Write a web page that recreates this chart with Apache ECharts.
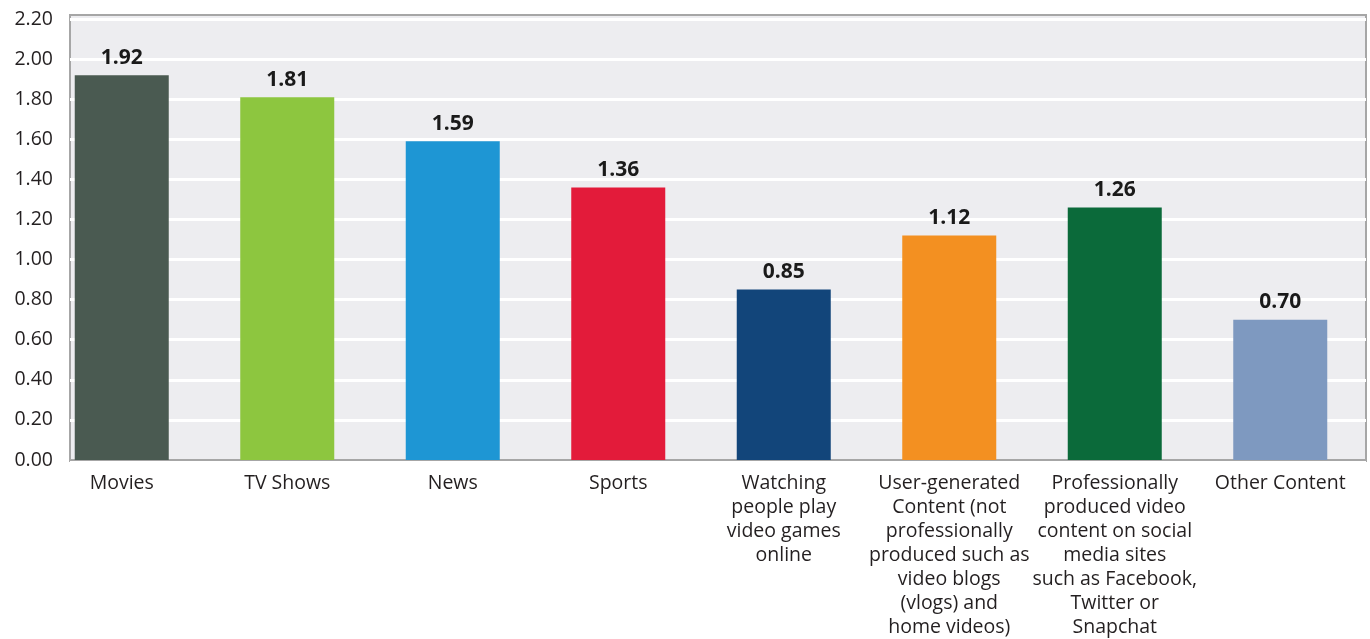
<!DOCTYPE html>
<html>
<head>
<meta charset="utf-8">
<title>Average rating by content type</title>
<script src="https://cdn.jsdelivr.net/npm/echarts@6/dist/echarts.min.js"></script>
<style>
  html, body { margin: 0; padding: 0; background: #ffffff; }
  #chart { width: 1370px; height: 639px; }
</style>
</head>
<body>
<div id="chart"></div>
<script>
// Content categories (line breaks as shown under the axis)
const categories = [
  'Movies',
  'TV Shows',
  'News',
  'Sports',
  'Watching\npeople play\nvideo games\nonline',
  'User-generated\nContent (not\nprofessionally\nproduced such as\nvideo blogs\n(vlogs) and\nhome videos)',
  'Professionally\nproduced video\ncontent on social\nmedia sites\nsuch as Facebook,\nTwitter or\nSnapchat',
  'Other Content'
];

// Average values per category
const values = [1.92, 1.81, 1.59, 1.36, 0.85, 1.12, 1.26, 0.70];

// Bar colours per category
const barColors = ['#4a5a51', '#8dc63f', '#1e96d4', '#e31b3a', '#12457a', '#f39021', '#0b6a3a', '#7e99c0'];

// Value axis range
const yMin = 0;
const yMax = 2.2;
const yStep = 0.2;

const FONT = '"Open Sans", "Liberation Sans", sans-serif';

const chart = echarts.init(document.getElementById('chart'), null, { renderer: 'canvas' });

chart.setOption({
  animation: false,
  backgroundColor: '#ffffff',
  grid: [
    // framed plot background
    { left: 70, right: 4, top: 15, bottom: 178, show: true,
      backgroundColor: '#ededf0', borderColor: '#a6a6a6', borderWidth: 2,
      outerBoundsMode: 'none' },
    // value axis and gridlines
    { left: 70, right: 4, top: 19, bottom: 179, outerBoundsMode: 'none' },
    // category bands for the bars
    { left: 39, right: 7, top: 19, bottom: 179, outerBoundsMode: 'none' }
  ],
  xAxis: [
    { gridIndex: 0, type: 'value', show: false },
    { gridIndex: 1, type: 'category', data: categories,
      axisLine: { show: true, lineStyle: { color: '#a6a6a6', width: 2 } },
      axisTick: { show: false }, axisLabel: { show: false }, splitLine: { show: false } },
    { gridIndex: 2, type: 'category', data: categories,
      axisLine: { show: false }, axisTick: { show: false },
      axisLabel: {
        interval: 0, margin: 11, color: '#231f20',
        fontFamily: FONT, fontSize: 19.5, lineHeight: 24, align: 'center'
      } }
  ],
  yAxis: [
    { gridIndex: 0, type: 'value', show: false },
    { gridIndex: 1, type: 'value', min: yMin, max: yMax, interval: yStep,
      axisLine: { show: false }, axisTick: { show: false },
      axisLabel: {
        margin: 17, color: '#231f20', fontFamily: FONT, fontSize: 19.5,
        formatter: v => v.toFixed(2)
      },
      splitLine: { show: true, lineStyle: { color: '#ffffff', width: 3 } } },
    { gridIndex: 2, type: 'value', min: yMin, max: yMax, interval: yStep, show: false,
      splitLine: { show: false } }
  ],
  series: [{
    type: 'bar',
    xAxisIndex: 2,
    yAxisIndex: 2,
    barWidth: 94,
    data: values.map((v, i) => ({ value: v, itemStyle: { color: barColors[i] } })),
    label: {
      show: true,
      position: 'top',
      distance: 7,
      color: '#1a1a1a',
      fontFamily: FONT,
      fontWeight: 'bold',
      fontSize: 21,
      formatter: p => p.value.toFixed(2)
    }
  }]
});
</script>
</body>
</html>
